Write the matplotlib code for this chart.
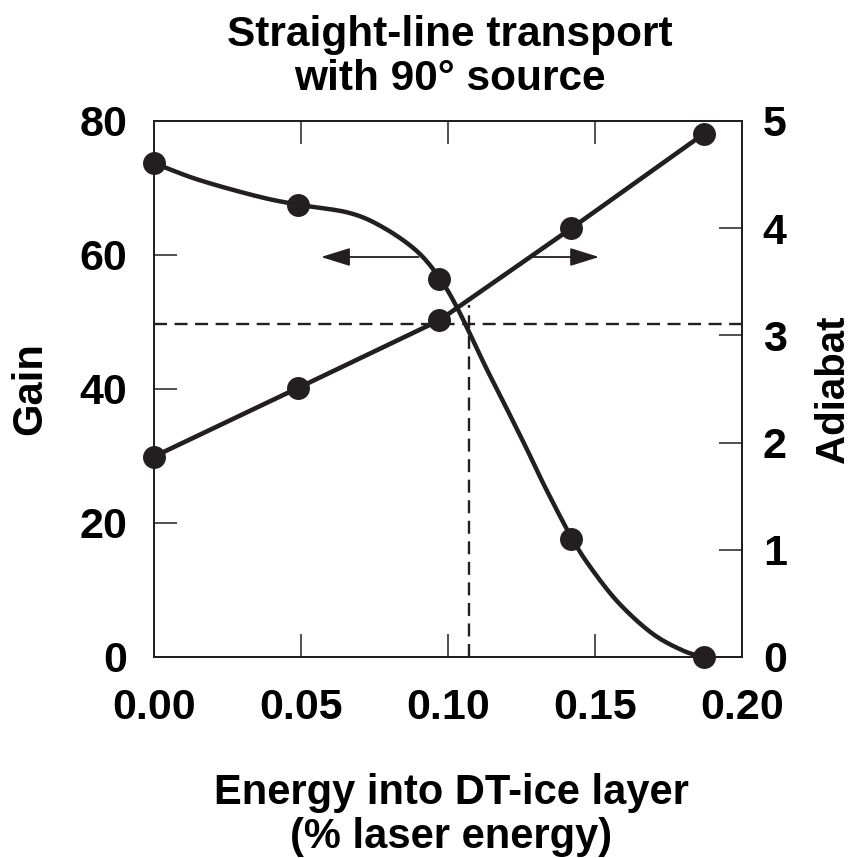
import numpy as np
import matplotlib
matplotlib.use('Agg')
import matplotlib.pyplot as plt
from matplotlib.ticker import FormatStrFormatter

plt.rcParams['font.family'] = ['Liberation Sans', 'DejaVu Sans']
plt.rcParams['font.weight'] = 'bold'

INK = '#231f20'

# simulated points (energy fraction in %, gain, adiabat)
energy = [0.0, 0.049, 0.097, 0.142, 0.187]
gain = [73.7, 67.5, 56.4, 17.6, 0.0]
adiabat = [1.87, 2.51, 3.14, 4.00, 4.88]

# hand-drawn fit through the gain points
curve_energy = [0.0, 0.0153, 0.0357, 0.0493, 0.0663, 0.0776, 0.0891, 0.0969,
                0.1035, 0.1128, 0.1196, 0.1264, 0.1332, 0.1423, 0.1491,
                0.1582, 0.1695, 0.1797, 0.1867]
curve_gain = [73.7, 71.2, 68.7, 67.5, 66.3, 64.2, 60.7, 56.7,
              51.8, 43.3, 37.4, 31.4, 25.2, 17.6, 13.0,
              8.0, 3.5, 1.0, 0.0]

# operating point where the two curves cross
cross_energy = 0.107
cross_gain = 52.5
cross_adiabat = 3.11

# arrows telling which axis each curve belongs to
arrow_level = 59.7
left_arrow = (0.090, 0.0568)
right_arrow = (0.1286, 0.1514)

xticks = [0.0, 0.05, 0.10, 0.15, 0.20]
gain_ticks = [0, 20, 40, 60, 80]
adiabat_ticks = [0, 1, 2, 3, 4, 5]


def smooth_path(x, y, n=12):
    # Catmull-Rom pass so the traced fit is drawn without corners
    p = np.column_stack([x, y]).astype(float)
    p = np.vstack([2 * p[0] - p[1], p, 2 * p[-1] - p[-2]])
    t = np.linspace(0, 1, n, endpoint=False)[:, None]
    out = []
    for i in range(1, len(p) - 2):
        p0, p1, p2, p3 = p[i - 1], p[i], p[i + 1], p[i + 2]
        seg = 0.5 * ((2 * p1) + (-p0 + p2) * t + (2 * p0 - 5 * p1 + 4 * p2 - p3) * t ** 2
                     + (-p0 + 3 * p1 - 3 * p2 + p3) * t ** 3)
        out.append(seg)
    out.append(p[-2][None, :])
    out = np.vstack(out)
    return out[:, 0], out[:, 1]


fig = plt.figure(figsize=(8.55, 8.58), dpi=100)
ax = fig.add_axes([154 / 855, 1 - 657 / 858, 588 / 855, 536 / 858])
ax2 = ax.twinx()

ax.set_xlim(0, 0.2)
ax.set_ylim(0, 80)
ax2.set_ylim(0, 5)

# dashed guide lines
dash = dict(color=INK, lw=1.7, dashes=(5.5, 3.2))
ax2.axhline(cross_adiabat, **dash)
ax.plot([cross_energy, cross_energy], [0, cross_gain], **dash)

sx, sy = smooth_path(curve_energy, curve_gain)
ax.plot(sx, sy, color=INK, lw=3.2, solid_capstyle='round', clip_on=False)
ax.plot(energy, gain, 'o', color=INK, ms=15.5, clip_on=False, zorder=5)

ax2.plot(energy, adiabat, '-o', color=INK, lw=3.3, ms=15.5, clip_on=False, zorder=5)

arrow_kw = dict(arrowstyle='-|>,head_length=0.9,head_width=0.28',
                color=INK, lw=1.3, mutation_scale=20, shrinkA=0, shrinkB=0)
ax.annotate('', xy=(left_arrow[1], arrow_level), xytext=(left_arrow[0], arrow_level),
            arrowprops=arrow_kw)
ax.annotate('', xy=(right_arrow[1], arrow_level), xytext=(right_arrow[0], arrow_level),
            arrowprops=arrow_kw)

ax.set_xticks(xticks)
ax.set_yticks(gain_ticks)
ax2.set_yticks(adiabat_ticks)
ax.xaxis.set_major_formatter(FormatStrFormatter('%.2f'))

ax.tick_params(axis='both', direction='in', length=16.5, width=1.1, color=INK,
               labelsize=31, top=True)
ax.tick_params(axis='x', pad=22)
ax.tick_params(axis='y', pad=19)
ax2.tick_params(axis='y', direction='in', length=16.5, width=1.1, color=INK,
                labelsize=31, pad=15)

for a in (ax, ax2):
    for s in a.spines.values():
        s.set_linewidth(1.4)
        s.set_color(INK)

fig.text(450 / 855, 1 - 90 / 858, 'Straight-line transport\nwith 90\u00b0 source',
         ha='center', va='baseline', fontsize=30.5, fontweight='bold', linespacing=1.12)
fig.text(451 / 855, 1 - 848 / 858, 'Energy into DT-ice layer\n(% laser energy)',
         ha='center', va='baseline', fontsize=30, fontweight='bold', linespacing=1.12)
fig.text(30 / 855, 1 - 389 / 858, 'Gain', rotation=90, ha='center', va='center',
         fontsize=30, fontweight='bold')
fig.text(833 / 855, 1 - 389 / 858, 'Adiabat', rotation=90, ha='center', va='center',
         fontsize=29, fontweight='bold')

fig.savefig('out.png', dpi=100)
